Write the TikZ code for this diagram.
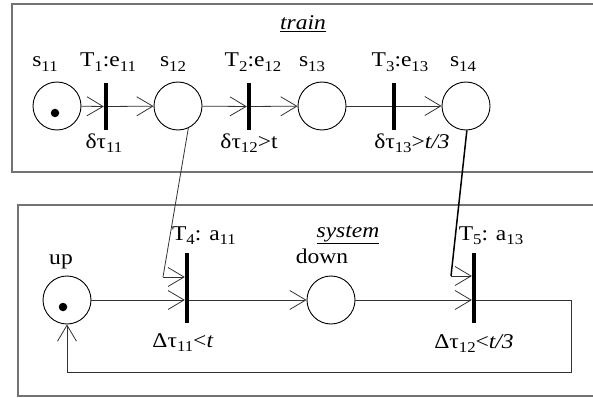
\documentclass[tikz,border=0pt]{standalone}
\usepackage{fontspec}
\setmainfont{Liberation Serif}[FakeStretch=1.12]
\usetikzlibrary{arrows.meta}
\newcommand\sbs[1]{\raisebox{-4.5pt}{\fontsize{15}{15}\selectfont #1}}
\tikzset{
  place/.style={circle, draw=black, line width=0.9pt, minimum size=48pt, inner sep=0pt},
  tbar/.style={fill=black, inner sep=0pt, minimum width=4pt},
  tok/.style={circle, fill=black, minimum size=8.5pt, inner sep=0pt},
  arcc/.style={draw=black!80, line width=0.8pt, -{Straight Barb[length=16pt,width=19pt]}},
  plainline/.style={draw=black!80, line width=0.8pt},
  lbl/.style={font=\fontsize{21}{25}\selectfont, inner sep=0pt, anchor=base},
  frame/.style={draw=black!55, line width=2pt},
}
\begin{document}
\begin{tikzpicture}[x=1pt, y=-1pt]
\useasboundingbox (0,0) rectangle (593,398);
\fill[white] (0,0) rectangle (593,398);
% frames
\draw[frame] (600,4) -- (12,4) -- (12,172) -- (600,172);
\draw[frame] (600,205) -- (18,205) -- (18,396) -- (600,396);
% places
\node[place] (s11) at (57,106) {};
\node[place] (s12) at (178,106) {};
\node[place] (s13) at (322,106) {};
\node[place] (s14) at (466,106) {};
\node[place] (up) at (67,300) {};
\node[place] (down) at (331,300) {};
\node[tok] (k11) at (55,113) {};
\node[tok] (kup) at (63,307) {};
% transitions
\node[tbar, minimum height=47pt] (T1) at (106,106.5) {};
\node[tbar, minimum height=47pt] (T2) at (249,106.5) {};
\node[tbar, minimum height=47pt] (T3) at (394,106.5) {};
\node[tbar, minimum height=70pt] (T4) at (187,288) {};
\node[tbar, minimum height=70pt] (T5) at (474,288) {};
% arcs top
\draw[arcc] (s11) -- (T1);
\draw[arcc] (T1) -- (s12);
\draw[arcc] (s12) -- (T2);
\draw[arcc] (T2) -- (s13);
\draw[arcc] (s13) -- (s14);
% arcs bottom
\draw[arcc] (up) -- (up -| T4.west);
\draw[arcc] (T4.east |- up) -- (down);
\draw[arcc] (down) -- (down -| T5.west);
\coordinate (c1) at (571,372);
\draw[arcc] (T5.east |- down) -| (c1) -| (up.south);
% read arcs
\coordinate (k1) at (163,277);
\coordinate (k2) at (451,276);
\draw[plainline] (s12.-65) -- (k1);
\draw[arcc] (k1) -- (k1 -| T4.west);
\draw[draw=black, line width=1.5pt] (s14.-88) -- (k2);
\draw[arcc] (k2) -- (k2 -| T5.west);
% redraw bar on top of the crossing arc
\fill (T3.south west) rectangle (T3.north east);
% labels
\node[lbl] (ls11) at (45,67) {s\sbs{11}};
\node[lbl] (lT1) at (108,67) {T\sbs{1}:e\sbs{11}};
\node[lbl] (ls12) at (173,67) {s\sbs{12}};
\node[lbl] (lT2) at (253,67) {T\sbs{2}:e\sbs{12}};
\node[lbl] (ls13) at (312,67) {s\sbs{13}};
\node[lbl] (lT3) at (400,67) {T\sbs{3}:e\sbs{13}};
\node[lbl] (ls14) at (463,67) {s\sbs{14}};
\node[lbl] (ltrain) at (303,30) {\underline{\textit{train}}};
\node[lbl] (ld1) at (104,148) {δτ\sbs{11}};
\node[lbl] (ld2) at (249,148) {δτ\sbs{12}>t};
\node[lbl] (ld3) at (412,148) {δτ\sbs{13}>\textit{t/3}};
\node[lbl] (lup) at (61,264) {up};
\node[lbl] (lT4) at (204,240) {T\sbs{4}: a\sbs{11}};
\node[lbl] (lsys) at (348,237) {\underline{\textit{system}}};
\node[lbl] (ldown) at (322,263) {down};
\node[lbl] (lT5) at (491,240) {T\sbs{5}: a\sbs{13}};
\node[lbl] (lD1) at (183,347) {Δτ\sbs{11}<\textit{t}};
\node[lbl] (lD2) at (474,348) {Δτ\sbs{12}<\textit{t/3}};
\end{tikzpicture}
\end{document}
